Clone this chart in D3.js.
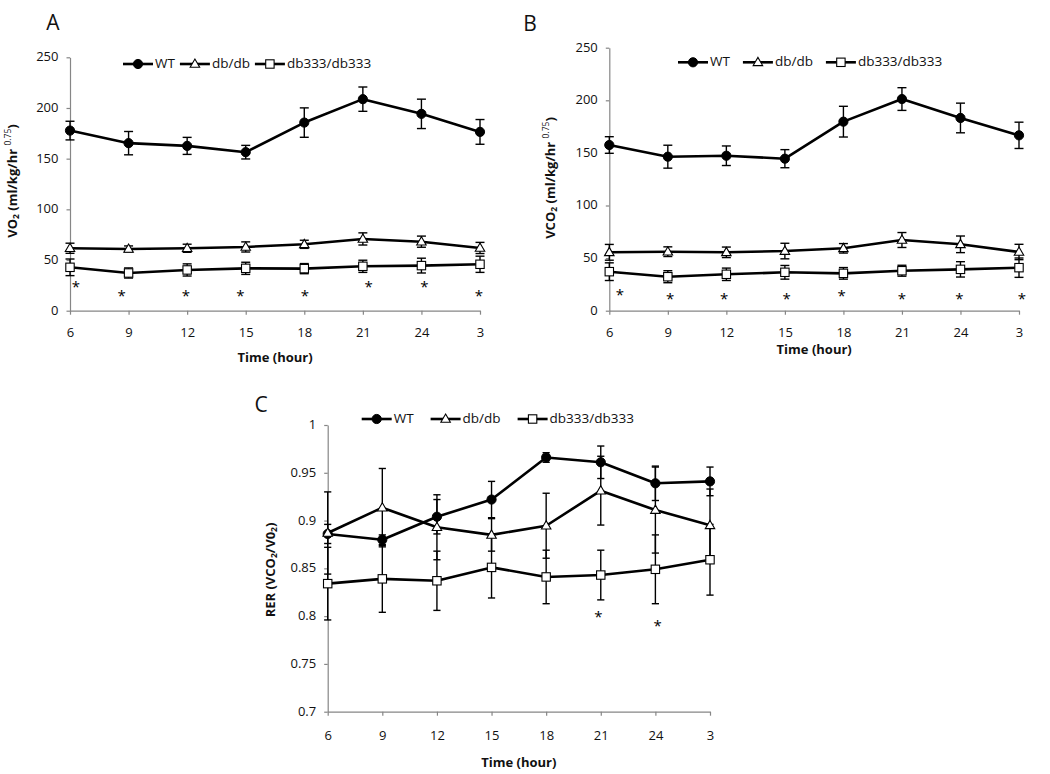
<!DOCTYPE html>
<html>
<head>
<meta charset="utf-8">
<script src="https://cdn.jsdelivr.net/npm/d3@7"></script>
<style>
  html, body { margin: 0; padding: 0; background: #fff; }
  svg { display: block; font-family: "Open Sans", Lato, sans-serif; }
</style>
</head>
<body>
<svg id="chart" width="1050" height="774"></svg>
<script>
// ---------- DATA ----------
const hours = ["6", "9", "12", "15", "18", "21", "24", "3"];
const seriesNames = ["WT", "db/db", "db333/db333"];

// Panel A: VO2
const vo2WT = [177.7, 165.3, 162.6, 156.4, 185.6, 208.7, 194.2, 176.4];
const vo2WTErr = [9.2, 11.5, 8.4, 6.7, 14.5, 12, 14.5, 12.2];
const vo2DB = [61.6, 60.9, 61.6, 62.9, 65.5, 70.8, 68.1, 61.9];
const vo2DBErr = [5, 3, 4, 5, 4, 6, 5.5, 5.5];
const vo2DB333 = [42.8, 37.2, 40.2, 41.8, 41.5, 43.8, 44.5, 45.8];
const vo2DB333Err = [8.2, 5, 6, 6, 5, 6, 7.3, 8];
const vo2StarIdx = [0.10, 0.88, 1.98, 2.91, 4.01, 5.10, 6.05, 6.98];
const vo2StarVal = [27.3, 17.8, 17.8, 17.8, 17.8, 27.3, 27.3, 17.8];
const vo2Ticks = [0, 50, 100, 150, 200, 250];

// Panel B: VCO2
const vco2WT = [157.5, 146.4, 147.3, 144.5, 179.7, 201.2, 183.2, 166.7];
const vco2WTErr = [7.9, 10.9, 9.3, 8.6, 14.6, 10.8, 14.1, 12.5];
const vco2DB = [55.5, 56.1, 55.5, 56.7, 59.3, 67.2, 63.1, 55.8];
const vco2DBErr = [7.5, 4.6, 5, 7.4, 4.5, 7.1, 7.9, 7.3];
const vco2DB333 = [37.1, 32.3, 34.6, 36.5, 35.5, 38, 39.3, 40.9];
const vco2DB333Err = [8.4, 5.7, 5.9, 6.5, 5.5, 5.2, 7.3, 9.2];
const vco2StarIdx = [0.18, 1.04, 1.96, 3.03, 3.97, 5.0, 5.98, 7.05];
const vco2StarVal = [18.1, 14.3, 14.3, 14.3, 17.1, 14.3, 14.3, 14.3];
const vco2Ticks = [0, 50, 100, 150, 200, 250];

// Panel C: RER
const rerWT = [0.886, 0.880, 0.904, 0.922, 0.966, 0.961, 0.939, 0.941];
const rerWTErr = [0.010, 0.005, 0.018, 0.019, 0.005, 0.017, 0.018, 0.015];
const rerDB = [0.887, 0.9135, 0.893, 0.885, 0.8946, 0.9313, 0.911, 0.895];
const rerDBErr = [0.043, 0.041, 0.034, 0.017, 0.034, 0.036, 0.045, 0.038];
const rerDB333 = [0.834, 0.839, 0.837, 0.851, 0.841, 0.843, 0.849, 0.859];
const rerDB333Err = [0.038, 0.035, 0.031, 0.032, 0.028, 0.026, 0.036, 0.037];
const rerStarIdx = [4.955, 6.04];
const rerStarVal = [0.803, 0.7935];
const rerTicks = [0.7, 0.75, 0.8, 0.85, 0.9, 0.95, 1];
const rerTickLabels = ["0.7", "0.75", "0.8", "0.85", "0.9", "0.95", "1"];

// ---------- DRAWING ----------
const svg = d3.select("#chart");
const AXIS_COLOR = "#868686";
const TEXT_COLOR = "#111";
const FONT = "'Open Sans', Lato, sans-serif";
const markerKinds = ["circle", "triangle", "square"];

function drawMarker(g, kind, cx, cy) {
  if (kind === "circle") {
    g.append("circle").attr("cx", cx).attr("cy", cy).attr("r", 4.6)
      .attr("fill", "#000").attr("stroke", "#000").attr("stroke-width", 1);
  } else if (kind === "triangle") {
    const s = 9.5, h = s * Math.sqrt(3) / 2;
    g.append("path")
      .attr("d", `M${cx},${cy - h * 0.6}L${cx + s / 2},${cy + h * 0.4}L${cx - s / 2},${cy + h * 0.4}Z`)
      .attr("fill", "#fff").attr("stroke", "#000").attr("stroke-width", 1.1);
  } else {
    const s = 8.4;
    g.append("rect").attr("x", cx - s / 2).attr("y", cy - s / 2).attr("width", s).attr("height", s)
      .attr("fill", "#fff").attr("stroke", "#000").attr("stroke-width", 1.1);
  }
}

function panel(cfg) {
  const g = svg.append("g");
  const x = d3.scalePoint().domain(hours).range(cfg.xRange).padding(0);
  const xi = d3.scaleLinear().domain([0, hours.length - 1]).range(cfg.xRange);
  const y = d3.scaleLinear().domain(cfg.yDomain).range(cfg.yRange);
  const axisX = cfg.xRange[0];
  const y0 = cfg.yRange[0];

  // x axis
  const gx = g.append("g").attr("transform", `translate(0,${y0})`)
    .call(d3.axisBottom(x).tickSizeInner(4).tickSizeOuter(0));
  gx.select(".domain").attr("stroke", AXIS_COLOR).attr("stroke-width", 1.2);
  gx.selectAll(".tick line").attr("stroke", AXIS_COLOR).attr("stroke-width", 1.2);
  gx.selectAll(".tick text").attr("y", cfg.xLabelOffset).attr("dy", null)
    .attr("dominant-baseline", "middle")
    .attr("font-size", 13).attr("font-family", FONT).attr("fill", TEXT_COLOR);

  // y axis
  const gy = g.append("g").attr("transform", `translate(${axisX},0)`)
    .call(d3.axisLeft(y).tickValues(cfg.ticks).tickFormat((d, i) => cfg.tickLabels[i])
      .tickSizeInner(3.5).tickSizeOuter(0).tickPadding(8));
  gy.select(".domain").attr("stroke", AXIS_COLOR).attr("stroke-width", 1.2);
  gy.selectAll(".tick line").attr("stroke", AXIS_COLOR).attr("stroke-width", 1.2);
  gy.selectAll(".tick text").attr("dy", null).attr("dominant-baseline", "middle")
    .attr("font-size", 13).attr("font-family", FONT).attr("fill", TEXT_COLOR);

  const series = cfg.series;
  // error bars
  const eg = g.append("g");
  series.forEach(s => {
    hours.forEach((h, i) => {
      const cx = x(h);
      const top = y(s.values[i] + s.err[i]);
      const bot = y(s.values[i] - s.err[i]);
      eg.append("line").attr("x1", cx).attr("x2", cx).attr("y1", top).attr("y2", bot)
        .attr("stroke", "#000").attr("stroke-width", 1.4);
      [top, bot].forEach(yy => {
        eg.append("line").attr("x1", cx - cfg.cap).attr("x2", cx + cfg.cap).attr("y1", yy).attr("y2", yy)
          .attr("stroke", "#000").attr("stroke-width", 1.4);
      });
    });
  });
  // lines
  const line = d3.line().x((d, i) => x(hours[i])).y(d => y(d));
  series.forEach(s => {
    g.append("path").datum(s.values).attr("d", line)
      .attr("fill", "none").attr("stroke", "#000").attr("stroke-width", 2.6)
      .attr("stroke-linejoin", "round");
  });
  // markers
  series.forEach((s, si) => {
    const mg = g.append("g");
    s.values.forEach((v, i) => drawMarker(mg, markerKinds[si], x(hours[i]), y(v)));
  });
  // asterisks
  cfg.starIdx.forEach((idx, i) => {
    g.append("text").attr("x", xi(idx)).attr("y", y(cfg.starVal[i]) + 8.5)
      .attr("text-anchor", "middle").attr("font-size", 15).attr("fill", "#000").text("*");
  });

  // legend
  const lg = g.append("g");
  let lx = cfg.legendX;
  seriesNames.forEach((name, si) => {
    lg.append("line").attr("x1", lx).attr("x2", lx + 30).attr("y1", cfg.legendY).attr("y2", cfg.legendY)
      .attr("stroke", "#000").attr("stroke-width", 2.6);
    drawMarker(lg, markerKinds[si], lx + 15, cfg.legendY);
    const t = lg.append("text").attr("x", lx + 32).attr("y", cfg.legendY)
      .attr("dominant-baseline", "middle").attr("font-size", 13.5).attr("fill", TEXT_COLOR).text(name);
    lx = lx + 32 + t.node().getComputedTextLength() + cfg.legendGap;
  });

  // x title
  g.append("text").attr("x", (cfg.xRange[0] + cfg.xRange[1]) / 2).attr("y", cfg.xTitleY)
    .attr("text-anchor", "middle").attr("dominant-baseline", "middle")
    .attr("font-size", 13).attr("font-weight", "bold").attr("fill", TEXT_COLOR).text("Time (hour)");

  // y title
  const yt = g.append("text")
    .attr("transform", `translate(${cfg.yTitleX},${cfg.yTitleY}) rotate(-90)`)
    .attr("text-anchor", "middle").attr("dominant-baseline", "middle")
    .attr("font-size", 13).attr("font-weight", "bold").attr("fill", TEXT_COLOR);
  cfg.yTitle(yt);

  // panel letter
  g.append("text").attr("x", cfg.letterX).attr("y", cfg.letterY)
    .attr("text-anchor", "middle").attr("dominant-baseline", "middle")
    .attr("font-size", 21).attr("fill", TEXT_COLOR).text(cfg.letter);
}

function vLabel(prefix) {
  return t => {
    t.append("tspan").text(prefix);
    t.append("tspan").attr("font-size", 8.5).attr("baseline-shift", "-3").text("2");
    t.append("tspan").text(" (ml/kg/hr ");
    t.append("tspan").attr("font-size", 8.5).attr("baseline-shift", "5").attr("font-weight", "normal").text("0.75");
    t.append("tspan").text(")");
  };
}

panel({
  letter: "A", letterX: 53, letterY: 24,
  xRange: [70, 480], yDomain: [0, 250], yRange: [310.7, 57.3],
  ticks: vo2Ticks, tickLabels: vo2Ticks.map(String),
  xLabelOffset: 23, xTitleY: 359, cap: 4.5,
  series: [
    { values: vo2WT, err: vo2WTErr },
    { values: vo2DB, err: vo2DBErr },
    { values: vo2DB333, err: vo2DB333Err }
  ],
  starIdx: vo2StarIdx, starVal: vo2StarVal,
  legendX: 123, legendY: 64, legendGap: 5,
  yTitleX: 14, yTitleY: 181,
  yTitle: vLabel("VO")
});

panel({
  letter: "B", letterX: 530, letterY: 25,
  xRange: [609.3, 1019], yDomain: [0, 250], yRange: [310.7, 47.7],
  ticks: vco2Ticks, tickLabels: vco2Ticks.map(String),
  xLabelOffset: 23, xTitleY: 351, cap: 4.5,
  series: [
    { values: vco2WT, err: vco2WTErr },
    { values: vco2DB, err: vco2DBErr },
    { values: vco2DB333, err: vco2DB333Err }
  ],
  starIdx: vco2StarIdx, starVal: vco2StarVal,
  legendX: 678, legendY: 62.3, legendGap: 13,
  yTitleX: 552, yTitleY: 178,
  yTitle: vLabel("VCO")
});

panel({
  letter: "C", letterX: 261, letterY: 406,
  xRange: [327.7, 710], yDomain: [0.7, 1], yRange: [711.7, 425],
  ticks: rerTicks, tickLabels: rerTickLabels,
  xLabelOffset: 25, xTitleY: 764, cap: 3.6,
  series: [
    { values: rerWT, err: rerWTErr },
    { values: rerDB, err: rerDBErr },
    { values: rerDB333, err: rerDB333Err }
  ],
  starIdx: rerStarIdx, starVal: rerStarVal,
  legendX: 361.7, legendY: 419, legendGap: 17,
  yTitleX: 272, yTitleY: 570,
  yTitle: t => {
    t.append("tspan").text("RER (VCO");
    t.append("tspan").attr("font-size", 8.5).attr("baseline-shift", "-3").text("2");
    t.append("tspan").text("/V0");
    t.append("tspan").attr("font-size", 8.5).attr("baseline-shift", "-3").text("2");
    t.append("tspan").text(")");
  }
});
</script>
</body>
</html>
